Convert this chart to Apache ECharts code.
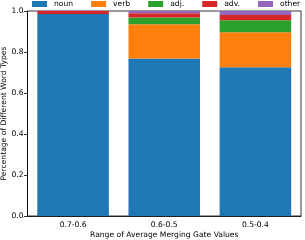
<!DOCTYPE html>
<html><head><meta charset="utf-8">
<script src="https://cdn.jsdelivr.net/npm/echarts@6/dist/echarts.min.js"></script>
<style>html,body{margin:0;padding:0;background:#fff}#c{width:305px;height:240px}</style>
</head><body><div id="c"></div>
<script>
const categories = ['0.7-0.6', '0.6-0.5', '0.5-0.4'];
const noun  = [0.985, 0.768, 0.726];
const verb  = [0.000, 0.167, 0.170];
const adj   = [0.000, 0.033, 0.059];
const adv   = [0.015, 0.021, 0.026];
const other = [0.000, 0.011, 0.019];
const seriesNames = ['noun', 'verb', 'adj.', 'adv.', 'other'];
const seriesData = [noun, verb, adj, adv, other];
const colors = ['#1f77b4', '#ff7f0e', '#2ca02c', '#d62728', '#9467bd'];
const yTicks = [0, 0.2, 0.4, 0.6, 0.8, 1.0];

const font = 'DejaVu Sans';
const fs = 7.6;
const chart = echarts.init(document.getElementById('c'), null, {renderer: 'canvas'});
chart.setOption({
  animation: false,
  color: colors,
  textStyle: {fontFamily: font},
  legend: {
    data: seriesNames,
    left: 32, top: 0, padding: 0,
    itemWidth: 15, itemHeight: 6, itemGap: 18,
    icon: 'rect',
    textStyle: {fontFamily: font, fontSize: fs, color: '#000', padding: [0, 0, 0, 2]}
  },
  grid: {left: 27.5, right: 4, top: 11, bottom: 24, show: true, borderColor: '#000', borderWidth: 0.8,
    containLabel: false, outerBoundsMode: 'none'},
  xAxis: {
    type: 'category', data: categories,
    axisLine: {lineStyle: {color: '#000', width: 0.8}},
    axisTick: {alignWithLabel: true, length: 3.5, lineStyle: {color: '#000', width: 0.8}},
    axisLabel: {fontFamily: font, fontSize: fs, color: '#000', margin: 5},
    name: 'Range of Average Merging Gate Values', nameLocation: 'middle', nameGap: 15,
    nameMoveOverlap: false,
    nameTextStyle: {fontFamily: font, fontSize: fs, color: '#000'}
  },
  yAxis: {
    type: 'value', min: 0, max: 1, interval: 0.2,
    splitLine: {show: false},
    axisLine: {show: true, lineStyle: {color: '#000', width: 0.8}},
    axisTick: {show: true, length: 3.5, lineStyle: {color: '#000', width: 0.8}},
    axisLabel: {fontFamily: font, fontSize: fs, color: '#000', margin: 4,
      formatter: v => yTicks.some(t => Math.abs(t - v) < 1e-9) ? v.toFixed(1) : ''},
    name: 'Percentage of Different Word Types', nameLocation: 'middle', nameGap: 19,
    nameMoveOverlap: false,
    nameTextStyle: {fontFamily: font, fontSize: fs, color: '#000'}
  },
  series: seriesNames.map((n, i) => ({
    name: n, type: 'bar', stack: 'all', data: seriesData[i],
    barWidth: '78.5%', itemStyle: {color: colors[i]}
  }))
});
</script></body></html>
